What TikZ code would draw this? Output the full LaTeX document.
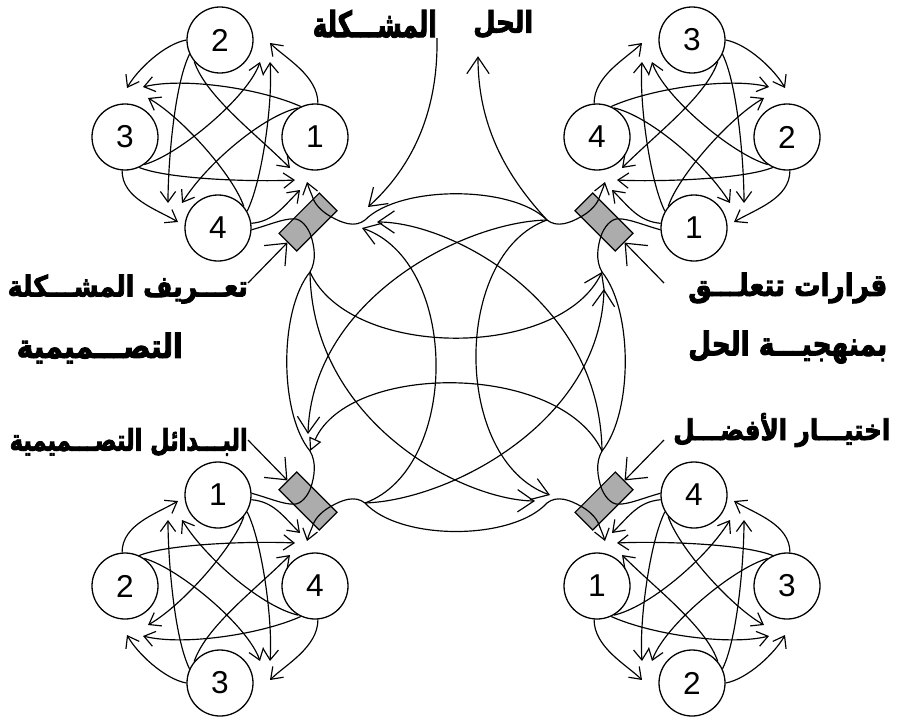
\documentclass[tikz,border=0pt]{standalone}
\usepackage{fontspec}
\usepackage{graphicx}
\setmainfont{Liberation Sans}
\newfontfamily\arfont[Script=Arabic,BoldFeatures={FakeBold=3}]{DejaVu Sans}
\TeXXeTstate=1
\usetikzlibrary{arrows.meta,calc}
\definecolor{boxgray}{RGB}{172,172,172}
\newcommand\artxt[3]{\resizebox*{#1}{#2}{\arfont\bfseries #3}}
\tikzset{
 cnode/.style={circle,draw,line width=1.1pt,minimum size=1.98cm,inner sep=0pt,font=\fontsize{27}{27}\selectfont},
 cedge/.style={line width=1pt,-{Straight Barb[length=9pt,width=13pt]}},
 frameline/.style={line width=1pt},
 carrow/.style={line width=1pt,-{Straight Barb[length=14pt,width=19pt]}},
 oarrow/.style={line width=1pt,-{Triangle[open,length=11pt,width=11pt]}},
 larrow/.style={line width=1pt,-{Straight Barb[length=15pt,width=25pt]}},
 gbox/.style={draw,fill=boxgray,line width=1pt,minimum width=1.71cm,minimum height=0.75cm,inner sep=0pt},
 lab/.style={inner sep=0pt},
}
% #1 prefix, #2 cx, #3 cy, #4 sx, #5 sy, #6 top, #7 local-left, #8 local-right, #9 local-bottom
\newcommand\cluster[9]{%
 \begin{scope}[shift={(#2,#3)},xscale=#4,yscale=#5]
  \node[cnode] (#1T) at (0,-95) {#6};
  \node[cnode] (#1L) at (-95,2) {#7};
  \node[cnode] (#1R) at (95,2) {#8};
  \node[cnode] (#1B) at (-2,93) {#9};
  \pgfmathtruncatemacro\rb{90*(1-(#4))*(#5)+(#4)*(#5)*45}
  \node[gbox,rotate=\rb] (#1box) at (88,87) {};
  \coordinate (#1h) at (145,85);
  \coordinate (#1v) at (90,137);
  \foreach \f/\sa/\ax/\ay/\bx/\by/\tx/\ty [count=\i] in {
    T/180/-22/4/10/-18/-93/-47,
    L/-95/0/28/-22/-13/-42/87,
    B/8/22/-2/-18/18/80/55,
    R/85/0/-28/15/15/50/-92,
    L/-55/35/-10/-12/35/40/-73,
    R/115/-40/-18/40/-10/-77/-48,
    L/-65/30/12/-40/2/75/45,
    R/120/-35/8/25/-40/-38/68,
    T/-155/-15/30/0/-40/-52/68,
    B/30/15/-30/3/40/50/-73,
    T/-140/12/35/-35/-35/70/33,
    B/40/-10/-30/35/20/-72/-37}{
    \pgfmathtruncatemacro\SA{90*(1-(#4))*(#5)+(#4)*(#5)*(\sa)}
    \coordinate (#1t\i) at (\tx,\ty);
    \draw[cedge] (#1\f.\SA) .. controls +(\ax,\ay) and +(\bx,\by) .. (#1t\i);
  }
  \pgfmathtruncatemacro\Ab{90*(1-(#4))*(#5)+(#4)*(#5)*(-3)}
  \draw[frameline] (#1B.\Ab) .. controls +(18,-5) and (62,84) .. (73.5,83.8)
     .. controls (81,83.5) and (88,92) .. (91.2,101.5)
     .. controls (94,111) and (97,125) .. (#1v);
  \coordinate (#1tb) at (87,47);
  \draw[cedge] (#1h) .. controls (135,93) and (122,88) .. (111,81.7)
     .. controls (104,78) and (96,71) .. (93.3,64)
     .. controls (92,60) and (89,54) .. (#1tb);
 \end{scope}}
\begin{document}
\begin{tikzpicture}[x=0.03cm,y=-0.03cm]
\useasboundingbox (0,0) rectangle (903,720);
\fill[white] (0,0) rectangle (903,720);
\cluster{tl}{220}{135}{1}{1}{2}{3}{1}{4}
\cluster{tr}{692}{135}{-1}{1}{3}{2}{4}{1}
\cluster{bl}{220}{588}{1}{-1}{3}{2}{4}{1}
\cluster{br}{692}{588}{-1}{-1}{2}{3}{1}{4}
% labels
\node[lab,anchor=east] (labM) at (437,24) {\artxt{3.72cm}{0.84cm}{\beginR المشـــكلة\endR}};
\node[lab,anchor=west] (labH) at (473,24) {\artxt{1.8cm}{0.84cm}{\beginR الحل\endR}};
\node[lab,anchor=east] (labTL1) at (248,289) {\artxt{7.2cm}{0.87cm}{\beginR تعـــريف المشـــكلة\endR}};
\node[lab,anchor=east] (labTL2) at (183,348) {\artxt{4.98cm}{0.92cm}{\beginR التصـــميمية\endR}};
\node[lab,anchor=east] (labBL) at (248,442) {\artxt{7.14cm}{0.84cm}{\beginR البـــدائل التصـــميمية\endR}};
\node[lab,anchor=west] (labTR1) at (688,288) {\artxt{5.97cm}{0.92cm}{\beginR قرارات تتعلـــق\endR}};
\node[lab,anchor=west] (labTR2) at (688,347) {\artxt{5.97cm}{0.99cm}{\beginR بمنهجيـــة الحل\endR}};
\node[lab,anchor=west] (labBR) at (673,430) {\artxt{6.51cm}{1.02cm}{\beginR اختيـــار الأفضـــل\endR}};
% frame lines
\draw[frameline] (tlh) .. controls (400,185) and (512,185) .. (trh);
\draw[frameline] (blh) .. controls (400,541) and (512,541) .. (brh);
\draw[frameline] (tlv) .. controls (279,310) and (279,413) .. (blv);
\draw[frameline] (trv) .. controls (633,310) and (633,413) .. (brv);
% central arrows
\draw[carrow] (labM.south east) .. controls (438,100) and (420,160) .. ($(tlh)+(3,-13)$);
\draw[carrow] (trh) .. controls (510,180) and (478,130) .. ($(labH.south west)+(5,18)$);
\draw[carrow] (tlv) .. controls (350,360) and (560,360) .. (trv);
\draw[oarrow] (brv) .. controls (560,362) and (350,362) .. (blv);
\draw[carrow] (blh) .. controls (460,468) and (460,262) .. ($(tlh)+(-3,8)$);
\draw[carrow] (trh) .. controls (452,254) and (452,460) .. ($(brh)+(3,-8)$);
\draw[carrow] (brv) .. controls (600,300) and (450,222) .. ($(tlh)+(12,2)$);
\draw[carrow] (trh) .. controls (462,222) and (312,300) .. ($(blv)+(-2,-17)$);
\draw[carrow] (tlv) .. controls (312,422) and (462,500) .. ($(brh)+(-12,-2)$);
\draw[carrow] (blh) .. controls (450,500) and (600,422) .. ($(trv)+(2,17)$);
% label arrows
\draw[larrow] ($(labTL1.east)+(0,-6)$) -- (tlbox.west);
\draw[larrow] ($(labTR1.west)+(-24,-5)$) -- (trbox.west);
\draw[larrow] ($(labBL.east)+(0,-2)$) -- (blbox.west);
\draw[larrow] ($(labBR.west)+(-9,10)$) -- (brbox.west);
\end{tikzpicture}
\end{document}
